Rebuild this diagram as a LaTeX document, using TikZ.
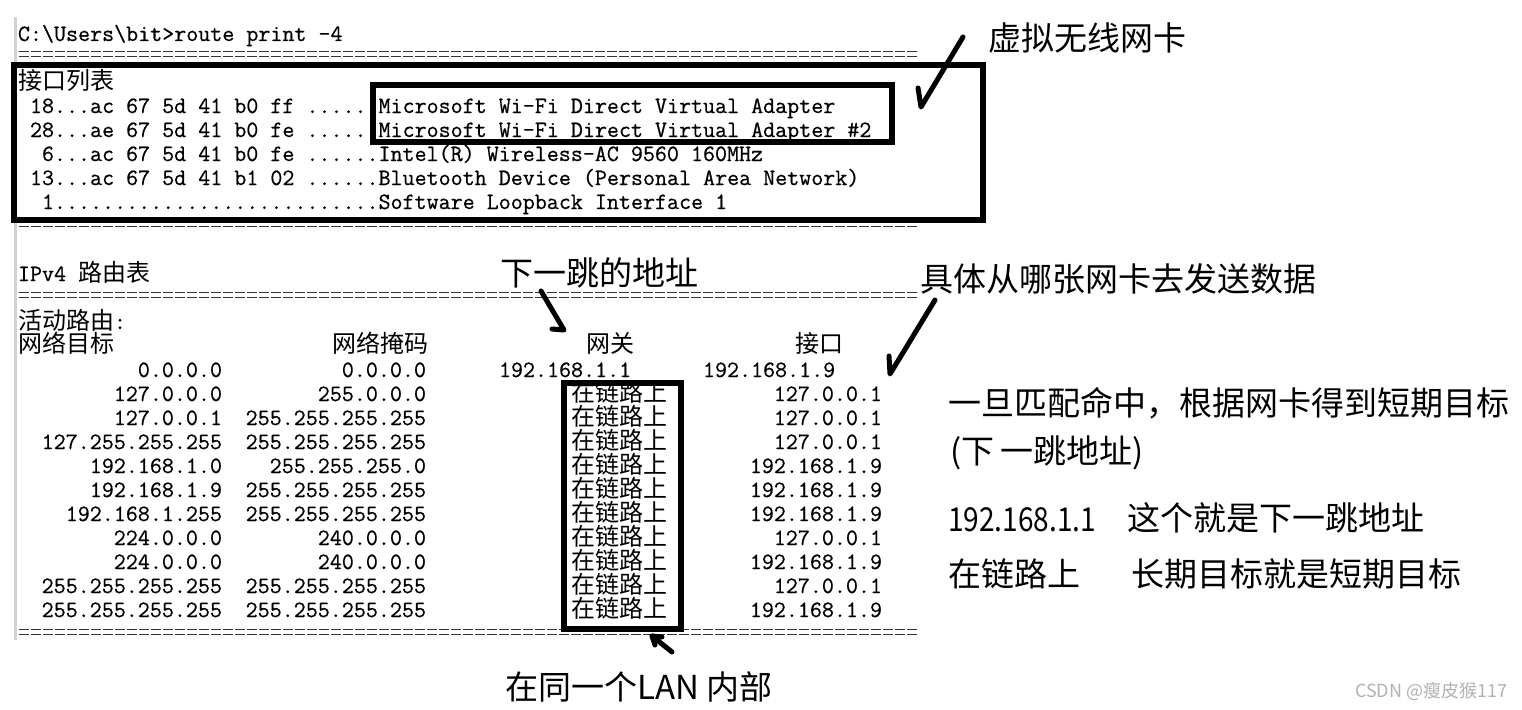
\documentclass[tikz,border=0pt]{standalone}
\usepackage{fontspec}
\newfontfamily\cjkfam{Noto Sans CJK SC}
\newfontfamily\monofam{lmmono12-regular.otf}[FakeBold=0.6]
\newcommand\contt{\fontsize{23.34}{24}\selectfont\monofam}
\newcommand\cjkcon{\fontsize{24}{24}\selectfont\cjkfam}
\newcommand\annot{\fontsize{33}{36}\selectfont\cjkfam}
\begin{document}
\begin{tikzpicture}[x=1pt,y=-1pt,
  txt/.style={inner sep=0pt,outer sep=0pt},
  frame/.style={draw=black,line width=5.5pt},
  hand/.style={draw=black,line width=5pt,line cap=round,line join=round},
  eqline/.style={draw=black!80,line width=1pt,dash pattern=on 10.5pt off 1.5pt}]
\useasboundingbox[fill=white] (0,0) rectangle (1522,709);
% console left border
\draw[gray!35,line width=3pt] (15,17) -- (15,640);
% separator lines
\foreach \yy in {52,57,221,226,292,297,629,634}{
  \draw[eqline] (18.5,\yy) -- (918,\yy);
}
% command line
\node[txt,anchor=base west] (cmd) at (18,41) {\contt C:\textbackslash Users\textbackslash bit>route print -4};
% interface list
\node[txt,anchor=base west] (iflist) at (18,89) {\cjkcon 接口列表};
\node[txt,anchor=base west] (if1) at (30,113) {\contt 18...ac 67 5d 41 b0 ff ......Microsoft Wi-Fi Direct Virtual Adapter};
\node[txt,anchor=base west] (if2) at (30,137) {\contt 28...ae 67 5d 41 b0 fe ......Microsoft Wi-Fi Direct Virtual Adapter \#2};
\node[txt,anchor=base west] (if3) at (42,161) {\contt 6...ac 67 5d 41 b0 fe ......Intel(R) Wireless-AC 9560 160MHz};
\node[txt,anchor=base west] (if4) at (30,185) {\contt 13...ac 67 5d 41 b1 02 ......Bluetooth Device (Personal Area Network)};
\node[txt,anchor=base west] (if5) at (42,209) {\contt 1...........................Software Loopback Interface 1};
% boxes around interface list
\draw[frame] (14,65) rectangle (983,220);
\draw[frame] (373,85) rectangle (892,142);
% route table header
\node[txt,anchor=base west] (ipv4) at (18,281) {\contt IPv4};
\node[txt,anchor=base west] (rt) at (78,281) {\cjkcon 路由表};
\node[txt,anchor=base west] (act) at (18,329) {\cjkcon 活动路由\contt :};
\node[txt,anchor=base west] (hdst) at (18,352) {\cjkcon 网络目标};
\node[txt,anchor=base east] (hmsk) at (428,352) {\cjkcon 网络掩码};
\node[txt,anchor=base west] (hgw) at (586,352) {\cjkcon 网关};
\node[txt,anchor=base west] (hif) at (795,352) {\cjkcon 接口};
% first route
\node[txt,anchor=base east] (d1) at (222,377) {\contt 0.0.0.0};
\node[txt,anchor=base east] (m1) at (426,377) {\contt 0.0.0.0};
\node[txt,anchor=base west] (g1) at (499,377) {\contt 192.168.1.1};
\node[txt,anchor=base west] (f1) at (703,377) {\contt 192.168.1.9};
% remaining routes
\foreach \i/\d/\m/\f in {
  2/127.0.0.0/255.0.0.0/127.0.0.1,
  3/127.0.0.1/255.255.255.255/127.0.0.1,
  4/127.255.255.255/255.255.255.255/127.0.0.1,
  5/192.168.1.0/255.255.255.0/192.168.1.9,
  6/192.168.1.9/255.255.255.255/192.168.1.9,
  7/192.168.1.255/255.255.255.255/192.168.1.9,
  8/224.0.0.0/240.0.0.0/127.0.0.1,
  9/224.0.0.0/240.0.0.0/192.168.1.9,
  10/255.255.255.255/255.255.255.255/127.0.0.1,
  11/255.255.255.255/255.255.255.255/192.168.1.9}{
  \pgfmathsetmacro\yy{353+24*\i}
  \node[txt,anchor=base east] (d\i) at (222,\yy) {\contt \d};
  \node[txt,anchor=base east] (m\i) at (426,\yy) {\contt \m};
  \node[txt,anchor=base west] (g\i) at (571,\yy) {\cjkcon 在链路上};
  \node[txt,anchor=base east] (f\i) at (882,\yy) {\contt \f};
}
% box around on-link gateways
\draw[frame] (564,383) rectangle (681,629);
% annotations
\node[txt,anchor=base west] (vnic) at (988,51) {\annot 虚拟无线网卡};
\node[txt,anchor=base west] (nhop) at (500,285) {\annot 下一跳的地址};
\node[txt,anchor=base west] (which) at (920,291) {\annot 具体从哪张网卡去发送数据};
\node[txt,anchor=base west] (lan) at (505,699) {\annot 在同一个LAN 内部};
\node[txt,anchor=base west] (n1) at (948,415) {\annot 一旦匹配命中，根据网卡得到短期目标};
\node[txt,anchor=base west] (n2) at (950,463) {\annot (下\hspace{6pt}一跳地址)};
\node[txt,anchor=base west] (n3a) at (948,531) {\annot \scalebox{0.85}[1]{192.168.1.1}};
\node[txt,anchor=base west] (n3b) at (1127,530) {\annot 这个就是下一跳地址};
\node[txt,anchor=base west] (n4a) at (948,586) {\annot 在链路上};
\node[txt,anchor=base west] (n4b) at (1131,586) {\annot 长期目标就是短期目标};
\node[txt,anchor=base west,text=gray!60] (wm) at (1355,697) {\fontsize{18}{20}\selectfont\cjkfam CSDN @瘦皮猴117};
% hand-drawn arrows
\coordinate (a1b) at (918,88); \coordinate (a1t) at (921,107); \coordinate (a1s) at (963,37);
\draw[hand] (a1b) -- (a1t) -- (a1s);
\coordinate (a2s) at (541,291); \coordinate (a2t) at (564,330); \coordinate (a2b) at (552,329);
\draw[hand] (a2s) -- (a2t) -- (a2b);
\coordinate (a3s) at (935,300); \coordinate (a3t) at (890,374); \coordinate (a3b) at (889,356);
\draw[hand] (a3s) -- (a3t) -- (a3b);
\coordinate (a4s) at (672,652); \coordinate (a4t) at (652,636); \coordinate (a4b) at (662,637); \coordinate (a4c) at (655,645);
\draw[hand] (a4s) -- (a4t) -- (a4b);
\draw[hand] (a4t) -- (a4c);
\end{tikzpicture}
\end{document}
